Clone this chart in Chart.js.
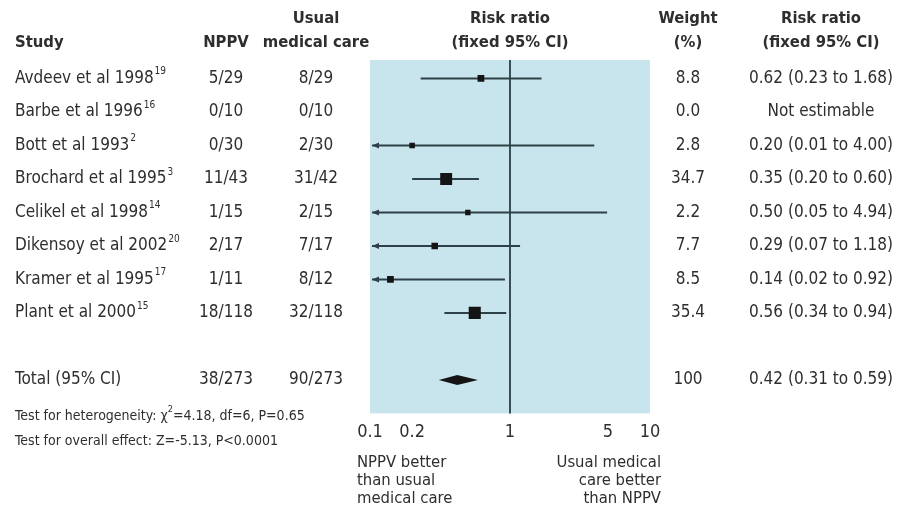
<!DOCTYPE html>
<html>
<head>
<meta charset="utf-8">
<script src="https://cdn.jsdelivr.net/npm/chart.js@4"></script>
<style>
  html, body { margin: 0; padding: 0; background: #ffffff; }
  #wrap { width: 899px; height: 515px; position: relative; }
</style>
</head>
<body>
<div id="wrap"><canvas id="forest"></canvas></div>
<script>
// ---- data ----
const studies  = ['Avdeev et al 1998', 'Barbe et al 1996', 'Bott et al 1993', 'Brochard et al 1995',
                  'Celikel et al 1998', 'Dikensoy et al 2002', 'Kramer et al 1995', 'Plant et al 2000'];
const refNums  = ['19', '16', '2', '3', '14', '20', '17', '15'];
const nppv     = ['5/29', '0/10', '0/30', '11/43', '1/15', '2/17', '1/11', '18/118'];
const usual    = ['8/29', '0/10', '2/30', '31/42', '2/15', '7/17', '8/12', '32/118'];
const weights  = [8.8, 0.0, 2.8, 34.7, 2.2, 7.7, 8.5, 35.4];
const riskRatio = [0.62, null, 0.20, 0.35, 0.50, 0.29, 0.14, 0.56];
const lowerCI  = [0.23, null, 0.01, 0.20, 0.05, 0.07, 0.02, 0.34];
const upperCI  = [1.68, null, 4.00, 0.60, 4.94, 1.18, 0.92, 0.94];
const ciLabels = ['0.62 (0.23 to 1.68)', 'Not estimable', '0.20 (0.01 to 4.00)', '0.35 (0.20 to 0.60)',
                  '0.50 (0.05 to 4.94)', '0.29 (0.07 to 1.18)', '0.14 (0.02 to 0.92)', '0.56 (0.34 to 0.94)'];

const totalLabel  = 'Total (95% CI)';
const totalNppv   = '38/273';
const totalUsual  = '90/273';
const totalWeight = '100';
const totalRR     = [0.42, 0.31, 0.59];   // estimate, lower, upper
const totalCILabel = '0.42 (0.31 to 0.59)';

const xTicks = [0.1, 0.2, 1, 5, 10];

// ---- styling ----
const FONT = "'DejaVu Sans Condensed', 'Liberation Sans', sans-serif";
const TEXT = '#2e2e2e';
const PANEL = '#c8e4ed';
const LINE = '#2e4047';
const TOTAL_ROW = studies.length + 1;  // one blank row before the total

const rows = riskRatio.map((v, i) => v == null ? null : { x: v, y: i, w: weights[i] });

// CI lines, arrows, the diamond and the panel
const forestMarks = {
  id: 'forestMarks',
  beforeDraw(chart) {
    const { ctx, chartArea: a } = chart;
    ctx.save();
    ctx.fillStyle = PANEL;
    ctx.fillRect(a.left, a.top, a.right - a.left, a.bottom - a.top);
    ctx.restore();
  },
  beforeDatasetsDraw(chart) {
    const { ctx, scales: { x, y }, chartArea: a } = chart;
    const minX = x.min;
    ctx.save();
    // line of no effect
    ctx.strokeStyle = '#3a4d55';
    ctx.lineWidth = 2;
    ctx.beginPath();
    ctx.moveTo(x.getPixelForValue(1), a.top);
    ctx.lineTo(x.getPixelForValue(1), a.bottom);
    ctx.stroke();

    ctx.strokeStyle = LINE;
    ctx.fillStyle = LINE;
    lowerCI.forEach((lo, i) => {
      if (lo == null) return;
      const yp = y.getPixelForValue(i);
      const clipped = lo < minX;
      const x0 = x.getPixelForValue(clipped ? minX : lo) + (clipped ? 2 : 0);
      const x1 = x.getPixelForValue(upperCI[i]);
      ctx.beginPath();
      ctx.moveTo(x0, yp);
      ctx.lineTo(x1, yp);
      ctx.stroke();
      if (clipped) {
        ctx.beginPath();
        ctx.moveTo(x0, yp);
        ctx.lineTo(x0 + 7, yp - 3);
        ctx.lineTo(x0 + 7, yp + 3);
        ctx.closePath();
        ctx.fill();
      }
    });

    // pooled estimate diamond
    const yt = y.getPixelForValue(TOTAL_ROW);
    ctx.fillStyle = '#151515';
    ctx.beginPath();
    ctx.moveTo(x.getPixelForValue(totalRR[1]), yt);
    ctx.lineTo(x.getPixelForValue(totalRR[0]), yt - 5);
    ctx.lineTo(x.getPixelForValue(totalRR[2]), yt);
    ctx.lineTo(x.getPixelForValue(totalRR[0]), yt + 5);
    ctx.closePath();
    ctx.fill();
    ctx.restore();
  }
};

// the table text around the plot
const forestTable = {
  id: 'forestTable',
  afterDraw(chart) {
    const { ctx, scales: { y } } = chart;
    ctx.save();
    ctx.fillStyle = TEXT;
    ctx.textBaseline = 'middle';

    // headers
    ctx.font = 'bold 16.5px ' + FONT;
    ctx.textAlign = 'left';
    ctx.fillText('Study', 15, 43);
    ctx.textAlign = 'center';
    ctx.fillText('NPPV', 226, 43);
    ctx.fillText('Usual', 316, 19);
    ctx.fillText('medical care', 316, 43);
    ctx.fillText('Risk ratio', 510, 19);
    ctx.fillText('(fixed 95% CI)', 510, 43);
    ctx.fillText('Weight', 688, 19);
    ctx.fillText('(%)', 688, 43);
    ctx.fillText('Risk ratio', 821, 19);
    ctx.fillText('(fixed 95% CI)', 821, 43);

    // study rows
    const body = '17px ' + FONT;
    studies.forEach((name, i) => {
      const yp = y.getPixelForValue(i);
      ctx.font = body;
      ctx.textAlign = 'left';
      ctx.fillText(name, 15, yp);
      const w = ctx.measureText(name).width;
      ctx.font = '10px ' + FONT;
      ctx.fillText(refNums[i], 15 + w + 1, yp - 7);
      ctx.font = body;
      ctx.textAlign = 'center';
      ctx.fillText(nppv[i], 226, yp);
      ctx.fillText(usual[i], 316, yp);
      ctx.fillText(weights[i].toFixed(1), 688, yp);
      ctx.fillText(ciLabels[i], 821, yp);
    });

    // total row
    const yt = y.getPixelForValue(TOTAL_ROW);
    ctx.textAlign = 'left';
    ctx.fillText(totalLabel, 15, yt);
    ctx.textAlign = 'center';
    ctx.fillText(totalNppv, 226, yt);
    ctx.fillText(totalUsual, 316, yt);
    ctx.fillText(totalWeight, 688, yt);
    ctx.fillText(totalCILabel, 821, yt);

    // tests
    ctx.textAlign = 'left';
    ctx.font = '14px ' + FONT;
    const s = 'Test for heterogeneity: \u03C7';
    ctx.fillText(s, 15, 416);
    let sx = 15 + ctx.measureText(s).width;
    ctx.font = '9px ' + FONT;
    ctx.fillText('2', sx, 410);
    sx += ctx.measureText('2').width;
    ctx.font = '14px ' + FONT;
    ctx.fillText('=4.18, df=6, P=0.65', sx, 416);
    ctx.fillText('Test for overall effect: Z=-5.13, P<0.0001', 15, 441);

    // direction labels
    ctx.font = '16.5px ' + FONT;
    ['NPPV better', 'than usual', 'medical care'].forEach((t, k) => ctx.fillText(t, 357, 463 + k * 18));
    ctx.textAlign = 'right';
    ['Usual medical', 'care better', 'than NPPV'].forEach((t, k) => ctx.fillText(t, 661, 463 + k * 18));
    ctx.restore();
  }
};

new Chart(document.getElementById('forest'), {
  type: 'scatter',
  data: {
    datasets: [{
      data: rows.filter(r => r),
      pointStyle: 'rect',
      pointRadius: ctx => (5 + ctx.raw.w * 0.2) / Math.SQRT2,
      backgroundColor: '#141414',
      borderWidth: 0
    }]
  },
  options: {
    responsive: true,
    maintainAspectRatio: false,
    animation: false,
    layout: { padding: { left: 370, right: 249, top: 60, bottom: 64 } },
    plugins: { legend: { display: false }, tooltip: { enabled: false } },
    scales: {
      x: {
        type: 'logarithmic',
        min: 0.1,
        max: 10,
        afterBuildTicks: axis => { axis.ticks = xTicks.map(v => ({ value: v })); },
        grid: { display: false, drawTicks: false },
        border: { display: false },
        ticks: {
          padding: 8,
          color: TEXT,
          font: { family: FONT, size: 18 },
          callback: v => String(v)
        }
      },
      y: {
        display: false,
        reverse: true,
        min: -0.55,
        max: 10
      }
    }
  },
  plugins: [forestMarks, forestTable]
});
</script>
</body>
</html>
